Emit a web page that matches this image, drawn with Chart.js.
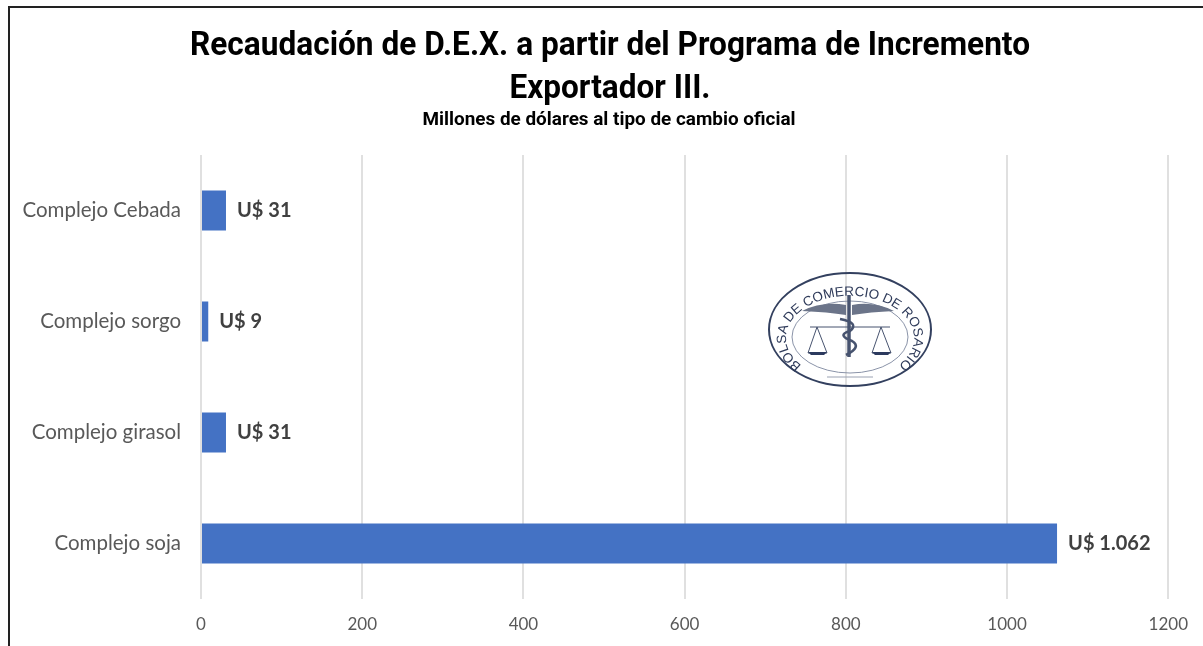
<!DOCTYPE html>
<html>
<head>
<meta charset="utf-8">
<title>Recaudación de D.E.X.</title>
<script src="https://cdn.jsdelivr.net/npm/chart.js@4"></script>
<style>
    html, body { margin: 0; padding: 0; background: #fff; overflow: hidden; }
    #wrap { position: relative; width: 1203px; height: 646px; overflow: hidden; filter: blur(0.45px); }
    #frame { position: absolute; left: 8px; top: 6px; width: 1300px; height: 800px; border: 2px solid #222; }
    canvas { position: absolute; left: 0; top: 0; }
    #logo { position: absolute; left: 760px; top: 265px; width: 180px; height: 130px; }
</style>
</head>
<body>
<div id="wrap">
    <div id="frame"></div>
    <canvas id="dexChart" width="1203" height="646"></canvas>
    <svg id="logo" viewBox="0 0 180 130">
        <defs>
            <path id="logoArc" d="M 40 99 A 64 42 0 1 1 140 99"/>
        </defs>
        <ellipse cx="90" cy="64.5" rx="81" ry="56.5" fill="none" stroke="#33405f" stroke-width="2"/>
        <ellipse cx="90" cy="72" rx="58" ry="36" fill="none" stroke="#8a93a8" stroke-width="1"/>
        <text font-family="Liberation Sans" font-size="13.5" fill="#2f3b5a" text-anchor="middle">
            <textPath href="#logoArc" startOffset="50%">BOLSA DE COMERCIO DE ROSARIO</textPath>
        </text>
        <path d="M42 46 Q62 36 86 40 L86 50 Q68 47 42 46 Z M134 46 Q114 36 92 40 L92 50 Q110 47 134 46 Z" fill="#6b7489"/>
        <g fill="none" stroke="#47536f">
            <path d="M89 30 V92" stroke-width="3.5"/>
            <path d="M50 62 H130" stroke-width="1"/>
            <path d="M57 62 L48 88 H67 Z M121 62 L112 88 H131 Z" stroke-width="1"/>
            <path d="M80 54 Q100 58 90 66 Q76 70 92 76 Q102 82 86 90" stroke-width="2.6"/>
        </g>
        <path d="M48 87 H67 L64 90 H51 Z M112 87 H131 L128 90 H115 Z" fill="#2c3a5e"/>
        <path d="M67 112 H113" stroke="#9aa1b2" stroke-width="1"/>
    </svg>
</div>
<script>
const categories = ["Complejo Cebada", "Complejo sorgo", "Complejo girasol", "Complejo soja"];
const dexValues = [31, 9, 31, 1062];
const dexLabels = ["U$ 31", "U$ 9", "U$ 31", "U$ 1.062"];
const titleLines = ["Recaudación de D.E.X. a partir del Programa de Incremento", "Exportador III."];
const subtitleText = "Millones de dólares al tipo de cambio oficial";

// No hay fuente condensada instalada: se angosta con el maxWidth de fillText
const headerText = {
    id: "headerText",
    afterDraw(chart) {
        const ctx = chart.ctx;
        ctx.save();
        ctx.fillStyle = "#000";
        ctx.textAlign = "center";
        ctx.font = "bold 34px Roboto";
        ctx.fillText(titleLines[0], 610, 55, 840);
        ctx.fillText(titleLines[1], 610, 98, 201);
        ctx.font = "bold 19px Roboto";
        ctx.fillText(subtitleText, 609, 125, 373);
        ctx.restore();
    }
};

// Etiquetas de valor a la derecha de cada barra
const barLabels = {
    id: "barLabels",
    afterDatasetsDraw(chart) {
        const ctx = chart.ctx;
        const meta = chart.getDatasetMeta(0);
        ctx.save();
        ctx.font = "bold 20px Lato";
        ctx.fillStyle = "#404040";
        ctx.textBaseline = "middle";
        meta.data.forEach((bar, i) => {
            ctx.fillText(dexLabels[i], bar.x + 11, bar.y);
        });
        ctx.restore();
    }
};

new Chart(document.getElementById("dexChart"), {
    type: "bar",
    data: {
        labels: categories,
        datasets: [{
            data: dexValues,
            backgroundColor: "#4472c4",
            borderWidth: 0,
            barPercentage: 0.36,
            categoryPercentage: 1
        }]
    },
    options: {
        indexAxis: "y",
        responsive: false,
        animation: false,
        layout: { padding: { top: 155, left: 0, right: 34, bottom: 0 } },
        plugins: {
            legend: { display: false },
            tooltip: { enabled: false }
        },
        scales: {
            x: {
                min: 0,
                max: 1200,
                afterFit: s => { s.height = 47; },
                ticks: {
                    stepSize: 200,
                    color: "#595959",
                    font: { family: "Lato", size: 17 },
                    padding: 15,
                    callback: v => String(v)
                },
                grid: { color: "#e0e0e0", lineWidth: 2, drawTicks: false },
                border: { display: false }
            },
            y: {
                afterFit: s => { s.width = 201; },
                ticks: { color: "#595959", font: { family: "Lato", size: 20.5 }, padding: 12 },
                grid: { display: false },
                border: { display: false }
            }
        }
    },
    plugins: [barLabels, headerText]
});
</script>
</body>
</html>
